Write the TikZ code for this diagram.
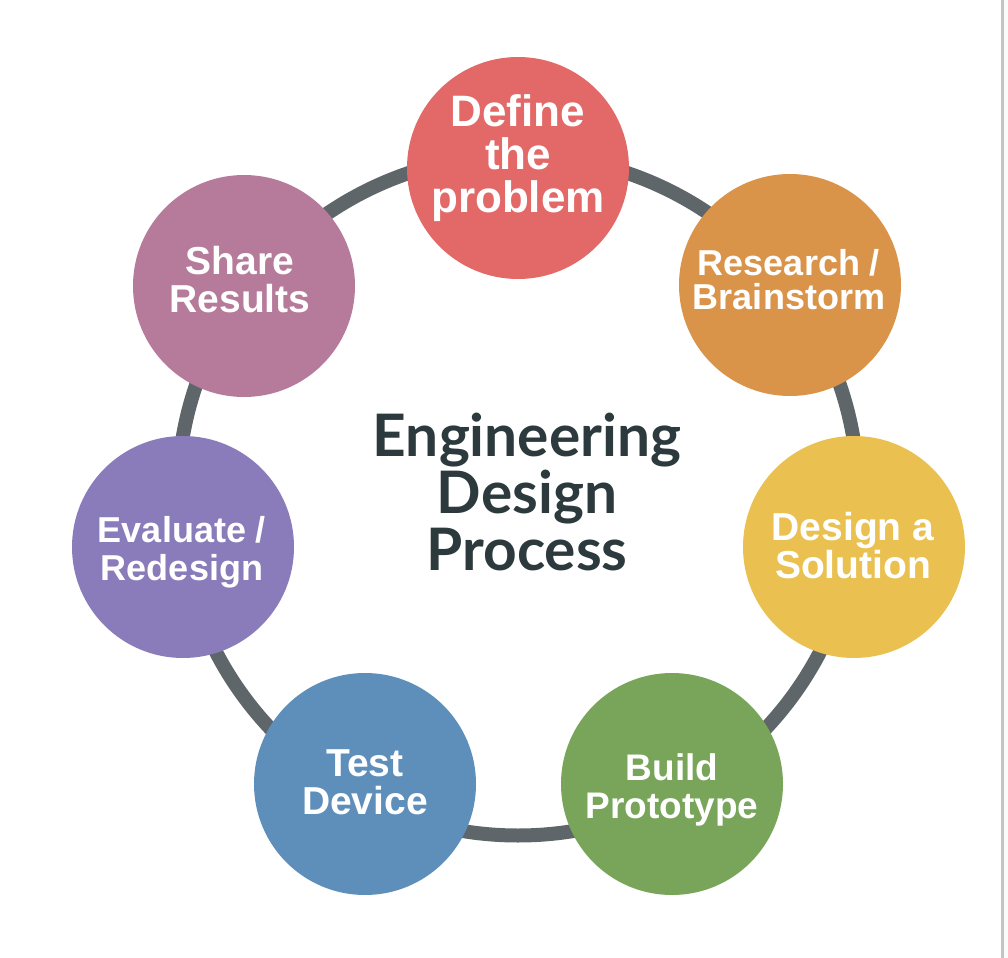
\documentclass[tikz,border=0pt]{standalone}
\usepackage{fontspec}
\setmainfont{Liberation Sans}
\newfontfamily\titlefont{Lato}
\definecolor{cDefine}{HTML}{E36868}
\definecolor{cResearch}{HTML}{DA9449}
\definecolor{cDesign}{HTML}{EAC150}
\definecolor{cBuild}{HTML}{78A55A}
\definecolor{cTest}{HTML}{5E8FBB}
\definecolor{cEval}{HTML}{8A7BBA}
\definecolor{cShare}{HTML}{B67A9A}
\definecolor{cRing}{HTML}{5E666A}
\definecolor{cTitle}{HTML}{2D3A3D}
\definecolor{cBorder}{HTML}{C4C4C4}
\tikzset{
  stepdisc/.style={circle, minimum size=222pt*0.5, inner sep=0pt, draw=none},
  steptext/.style={text=white, align=center, font=\bfseries\fontsize{18pt}{19pt}\selectfont, inner sep=0pt},
}
\begin{document}
\begin{tikzpicture}[x=0.5pt,y=-0.5pt]
\useasboundingbox (0,0) rectangle (1008,958);
\fill[white] (0,0) rectangle (1008,958);
\fill[black!2] (1004,0) rectangle (1008,958);
\draw[cBorder, line width=1.5pt] (1002.5,0) -- (1002.5,958);
% ring
\coordinate (ringc) at (518,495.3);
\draw[cRing, line width=7pt] (ringc) circle[radius=170.1pt];
% discs
\node[stepdisc, fill=cDefine]   (define)   at (518,168) {};
\node[stepdisc, fill=cResearch] (research) at (790,285) {};
\node[stepdisc, fill=cDesign]   (design)   at (854,547) {};
\node[stepdisc, fill=cBuild]    (build)    at (672,784) {};
\node[stepdisc, fill=cTest]     (test)     at (365,784) {};
\node[stepdisc, fill=cEval]     (eval)     at (183,547) {};
\node[stepdisc, fill=cShare]    (share)    at (244,286) {};
% texts
\node[steptext, font=\bfseries\fontsize{22pt}{21.5pt}\selectfont] (tdefine) at (518,158) {Define\\the\\problem};
\node[steptext, font=\bfseries\fontsize{18pt}{17pt}\selectfont] (tresearch) at (789,280) {Research /\\Brainstorm};
\node[steptext, font=\bfseries\fontsize{19.5pt}{19pt}\selectfont] (tdesign) at (853,546) {Design a\\Solution};
\node[steptext, font=\bfseries\fontsize{18.5pt}{19pt}\selectfont] (tbuild) at (672,790) {Build\\Prototype};
\node[steptext, font=\bfseries\fontsize{19.5pt}{19pt}\selectfont] (ttest) at (365,782) {Test\\Device};
\node[steptext] (teval) at (182,552) {Evaluate /\\Redesign};
\node[steptext, font=\bfseries\fontsize{19.5pt}{19pt}\selectfont] (tshare) at (240,280) {Share\\Results};
% title
\node[text=cTitle, align=center, inner sep=0pt, font=\titlefont\bfseries\fontsize{29.3pt}{28.3pt}\selectfont] (title) at (527,492) {Engineering\\Design\\Process};
\end{tikzpicture}
\end{document}
